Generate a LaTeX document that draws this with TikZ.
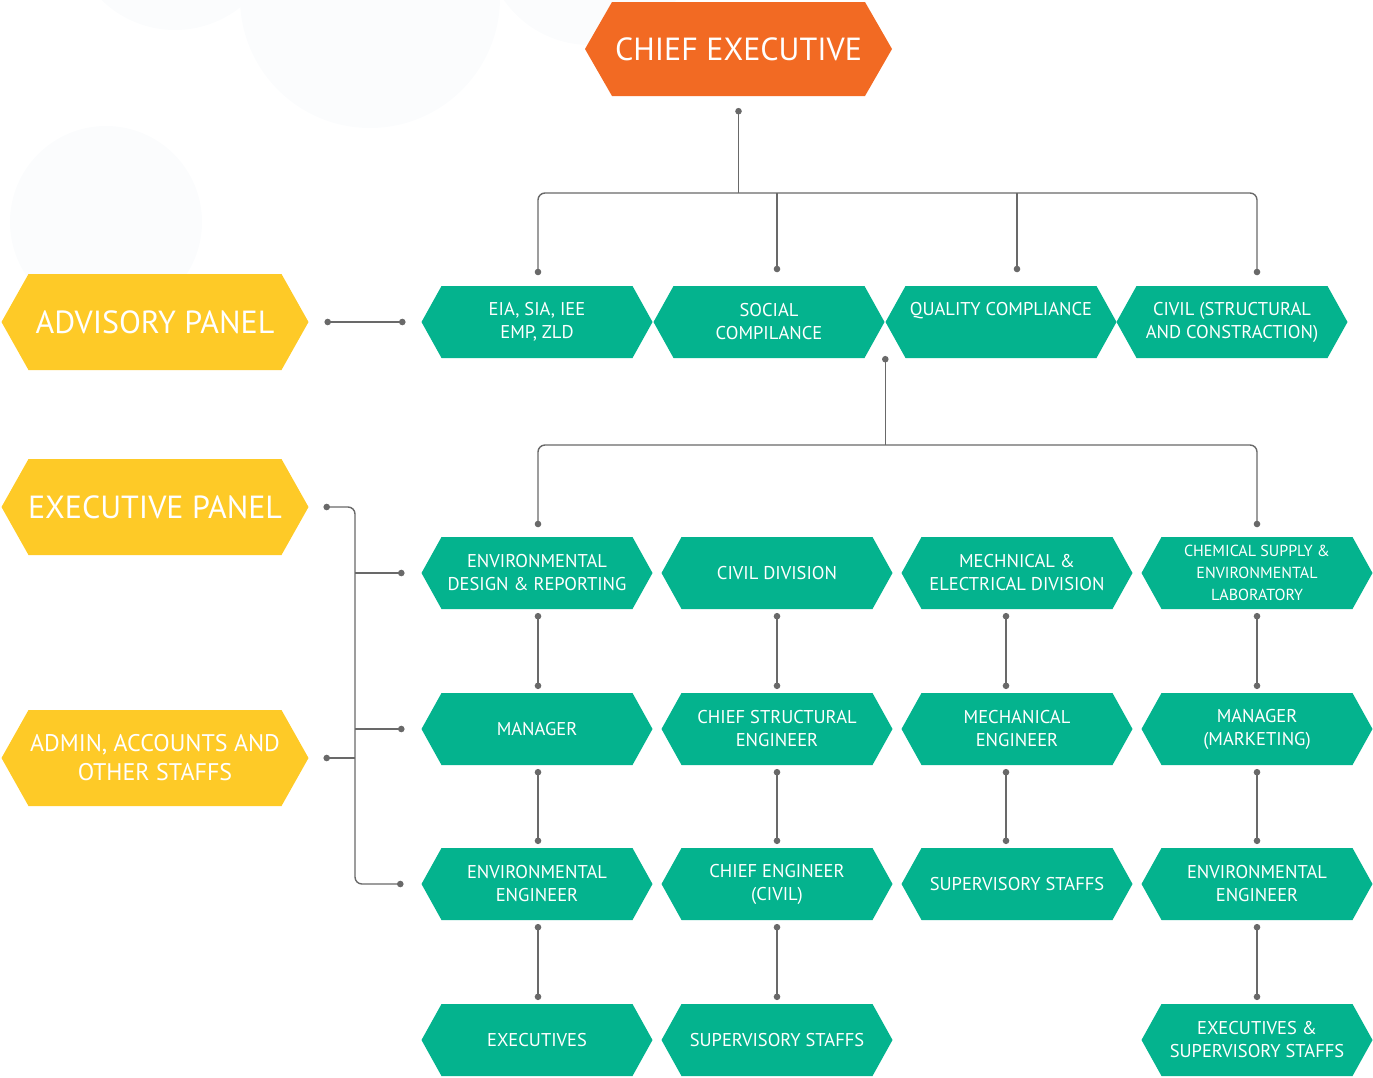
\documentclass[tikz,border=0pt]{standalone}
\usepackage{fontspec}
\setmainfont{PT Sans}
\usetikzlibrary{calc}
\definecolor{cgreen}{RGB}{4,179,142}
\definecolor{corange}{RGB}{242,106,35}
\definecolor{cyellow}{RGB}{254,202,39}
\definecolor{cline}{RGB}{105,105,105}
\definecolor{cbg}{RGB}{251,252,253}
\tikzset{
  hexfill/.store in=\hexcol,
  hexslant/.store in=\hexsl,
  hexagon/.style={inner sep=0pt, align=center, text=white,
    path picture={\fill[\hexcol] (path picture bounding box.west)
      -- ([xshift=\hexsl]path picture bounding box.north west)
      -- ([xshift=-\hexsl]path picture bounding box.north east)
      -- (path picture bounding box.east)
      -- ([xshift=-\hexsl]path picture bounding box.south east)
      -- ([xshift=\hexsl]path picture bounding box.south west) -- cycle;}},
  gbox/.style={hexagon, hexfill=cgreen, hexslant=20pt, minimum width=231pt, minimum height=72pt,
    font=\fontsize{18.5}{23}\selectfont},
  ybox/.style={hexagon, hexfill=cyellow, hexslant=27pt, minimum width=307pt, minimum height=96pt},
  obox/.style={hexagon, hexfill=corange, hexslant=27pt, minimum width=307pt, minimum height=94pt,
    font=\fontsize{32}{36}\selectfont},
  conn/.style={draw=cline, line width=1.4pt, rounded corners=7pt},
}
\newcommand{\dotat}[1]{\fill[cline] (#1) circle (3.3pt);}
\begin{document}
\begin{tikzpicture}[x=1pt,y=-1pt]
\useasboundingbox (0,0) rectangle (1373,1077);
% faint background circles
\fill[cbg] (175,-75) circle (105);
\fill[cbg] (370,-2) circle (130);
\fill[cbg] (590,-60) circle (105);
\fill[cbg] (106,222) circle (96);

% top
\node[obox] (ce) at (738.5,49) {CHIEF EXECUTIVE};

% yellow panels
\node[ybox, font=\fontsize{32}{36}\selectfont] (adv) at (155,322) {ADVISORY PANEL};
\node[ybox, font=\fontsize{32}{36}\selectfont] (exe) at (155,507) {EXECUTIVE PANEL};
\node[ybox, font=\fontsize{24}{29}\selectfont] (adm) at (155,758) {ADMIN, ACCOUNTS AND\\OTHER STAFFS};

% row 1
\node[gbox] (a1) at (537,322) {EIA, SIA, IEE\\EMP, ZLD};
\node[gbox] (a2) at (769,322) {SOCIAL\\COMPILANCE};
\node[gbox] (a3) at (1001,322) {QUALITY COMPLIANCE\\\phantom{Q}};
\node[gbox] (a4) at (1232,322) {CIVIL (STRUCTURAL\\AND CONSTRACTION)};

% row 2
\node[gbox] (b1) at (537,573) {ENVIRONMENTAL\\DESIGN \& REPORTING};
\node[gbox] (b2) at (777,573) {CIVIL DIVISION};
\node[gbox] (b3) at (1017,573) {MECHNICAL \&\\ELECTRICAL DIVISION};
\node[gbox, font=\fontsize{16}{22}\selectfont] (b4) at (1257,573) {CHEMICAL SUPPLY \&\\ENVIRONMENTAL\\LABORATORY};

% row 3
\node[gbox] (c1) at (537,729) {MANAGER};
\node[gbox] (c2) at (777,729) {CHIEF STRUCTURAL\\ENGINEER};
\node[gbox] (c3) at (1017,729) {MECHANICAL\\ENGINEER};
\node[gbox] (c4) at (1257,729) {MANAGER\\(MARKETING)};

% row 4
\node[gbox] (d1) at (537,884) {ENVIRONMENTAL\\ENGINEER};
\node[gbox] (d2) at (777,884) {CHIEF ENGINEER\\(CIVIL)};
\node[gbox] (d3) at (1017,884) {SUPERVISORY STAFFS};
\node[gbox] (d4) at (1257,884) {ENVIRONMENTAL\\ENGINEER};

% row 5
\node[gbox] (e1) at (537,1040) {EXECUTIVES};
\node[gbox] (e2) at (777,1040) {SUPERVISORY STAFFS};
\node[gbox] (e4) at (1257,1040) {EXECUTIVES \&\\SUPERVISORY STAFFS};

% ---- connectors ----
% chief executive bus
\coordinate (ceD) at ([yshift=-15pt]ce.south);
\coordinate (bus1) at (ceD |- 0,193);
\coordinate (t1) at (538,272);
\coordinate (t2) at (777,269);
\coordinate (t3) at (1017,269);
\coordinate (t4) at (1257,272);
\draw[conn] (ceD) -- (bus1);
\draw[conn] (t1) -- (t1 |- bus1) -- (t4 |- bus1) -- (t4);
\draw[conn] (t2 |- bus1) -- (t2);
\draw[conn] (t3 |- bus1) -- (t3);
\foreach \p in {ceD,t1,t2,t3,t4} {\dotat{\p}}

% advisory
\coordinate (advR) at ([xshift=19pt]adv.east);
\coordinate (advL) at ([xshift=-19pt]a1.west);
\draw[conn] (advR) -- (advL);
\dotat{advR}\dotat{advL}

% quality bus
\coordinate (qD) at ([yshift=-1pt]a3.south west);
\coordinate (bus2) at (qD |- 0,445);
\coordinate (s1) at (538,524);
\coordinate (s4) at (1257,524);
\draw[conn] (qD) -- (bus2);
\draw[conn] (s1) -- (s1 |- bus2) -- (s4 |- bus2) -- (s4);
\foreach \p in {qD,s1,s4} {\dotat{\p}}

% left bracket
\coordinate (vx) at (355,0);
\coordinate (exR) at ([xshift=18pt]exe.east);
\coordinate (adR) at ([xshift=18pt]adm.east);
\coordinate (k2) at ([xshift=-20pt]b1.west);
\coordinate (k3) at ([xshift=-20pt]c1.west);
\coordinate (k4) at ([xshift=-21pt]d1.west);
\draw[conn] (exR) -- (exR -| vx) -- (k4 -| vx) -- (k4);
\draw[conn] (k2 -| vx) -- (k2);
\draw[conn] (k3 -| vx) -- (k3);
\draw[conn] (adR) -- (adR -| vx);
\foreach \p in {exR,adR,k2,k3,k4} {\dotat{\p}}

% vertical chains
\foreach \u/\v/\dx in {b1/c1/1,c1/d1/1,d1/e1/1, b2/c2/0,c2/d2/0,d2/e2/0, b3/c3/-11,c3/d3/-11, b4/c4/0,c4/d4/0,d4/e4/0} {
  \coordinate (\u-o) at ([xshift=\dx pt, yshift=-7pt]\u.south);
  \coordinate (\v-i) at ([xshift=\dx pt, yshift=7pt]\v.north);
  \draw[conn] (\u-o) -- (\v-i);
  \dotat{\u-o}\dotat{\v-i}
}
\end{tikzpicture}
\end{document}
